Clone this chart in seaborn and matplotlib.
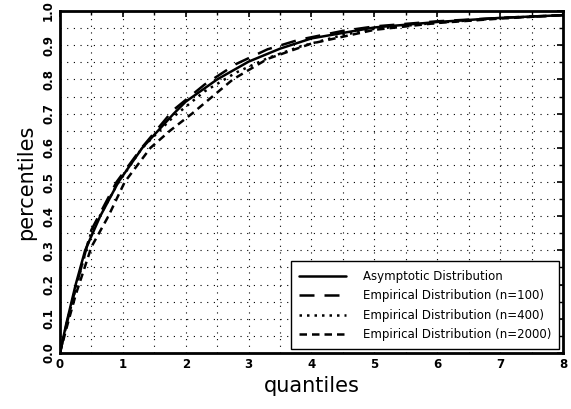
import numpy as np
import pandas as pd
import matplotlib
matplotlib.use("Agg")
import matplotlib.pyplot as plt
import seaborn as sns
from matplotlib.ticker import MultipleLocator

# values
asym_x = [0, 0.1, 0.25, 0.4, 0.64, 0.93, 1.31, 1.81, 2.0, 2.5, 3.0, 3.5, 4.0, 5.0, 6.0, 7.0, 8.0]
asym_y = [0, 0.085, 0.2, 0.3, 0.4, 0.5, 0.6, 0.7, 0.735, 0.8, 0.852, 0.89, 0.92, 0.952, 0.968, 0.98, 0.988]

n100_x = [0, 0.1, 0.25, 0.5, 0.9, 1.3, 1.8, 2.3, 2.8, 3.3, 3.8, 4.5, 5.0, 6.0, 7.0, 8.0]
n100_y = [0, 0.08, 0.19, 0.36, 0.5, 0.6, 0.71, 0.785, 0.845, 0.888, 0.916, 0.942, 0.955, 0.97, 0.98, 0.988]

n400_x = [0, 0.1, 0.25, 0.5, 0.9, 1.3, 1.8, 2.3, 2.8, 3.3, 3.8, 4.5, 5.0, 6.0, 7.0, 8.0]
n400_y = [0, 0.08, 0.19, 0.355, 0.49, 0.598, 0.69, 0.765, 0.82, 0.862, 0.895, 0.93, 0.948, 0.966, 0.979, 0.988]

n2000_x = [0, 0.1, 0.25, 0.5, 0.77, 1.03, 1.44, 1.75, 2.1, 2.75, 3.3, 4.0, 5.0, 6.0, 7.0, 8.0]
n2000_y = [0, 0.07, 0.17, 0.31, 0.4, 0.5, 0.6, 0.65, 0.7, 0.8, 0.86, 0.905, 0.945, 0.965, 0.978, 0.988]

labels = ["Asymptotic Distribution",
          "Empirical Distribution (n=100)",
          "Empirical Distribution (n=400)",
          "Empirical Distribution (n=2000)"]

x_ticks = [0, 1, 2, 3, 4, 5, 6, 7, 8]
y_ticks = [0.0, 0.1, 0.2, 0.3, 0.4, 0.5, 0.6, 0.7, 0.8, 0.9, 1.0]

series = [(asym_x, asym_y), (n100_x, n100_y), (n400_x, n400_y), (n2000_x, n2000_y)]
styles = [dict(linestyle="-", linewidth=1.8),
          dict(linestyle=(0, (6, 4)), linewidth=1.8),
          dict(linestyle=(0, (1, 2)), linewidth=1.8),
          dict(linestyle=(0, (3, 2)), linewidth=1.8)]

sns.set_style("white")
plt.rcParams["font.family"] = ["DejaVu Sans"]
plt.rcParams["text.color"] = "black"
plt.rcParams["axes.labelcolor"] = "black"
plt.rcParams["xtick.color"] = "black"
plt.rcParams["ytick.color"] = "black"

fig = plt.figure(figsize=(5.71, 4.09), dpi=100)
ax = fig.add_axes([0.105, 0.137, 0.881, 0.836])

for (xs, ys), lab, st in zip(series, labels, styles):
    df = pd.DataFrame({"x": xs, "y": ys})
    sns.lineplot(data=df, x="x", y="y", ax=ax, color="black", label=lab,
                 sort=False, estimator=None, **st)

ax.set_xlim(0, 8)
ax.set_ylim(0, 1)
ax.set_xticks(x_ticks)
ax.set_xticklabels([str(v) for v in x_ticks], fontweight="bold")
ax.set_yticks(y_ticks)
ax.set_yticklabels([f"{v:.1f}" for v in y_ticks], rotation=90, va="center",
                   fontweight="bold")
ax.xaxis.set_minor_locator(MultipleLocator(0.5))
ax.yaxis.set_minor_locator(MultipleLocator(0.05))

ax.grid(True, which="both", color="black", linestyle=(0, (1, 5)), linewidth=0.8)
ax.tick_params(which="both", direction="in", top=True, right=True, color="black")
ax.tick_params(which="major", length=4, width=1.2, labelsize=8.5)
ax.tick_params(which="minor", length=3, width=1.0)
for sp in ax.spines.values():
    sp.set_linewidth(2)
    sp.set_color("black")

ax.set_xlabel("quantiles", fontsize=15)
ax.set_ylabel("percentiles", fontsize=15)

leg = ax.legend(loc="lower right", fontsize=8.5, frameon=True, fancybox=False,
                edgecolor="black", framealpha=1, handlelength=4.0,
                handletextpad=1.4, borderpad=0.7, labelspacing=0.55,
                borderaxespad=0.3)
leg.get_frame().set_linewidth(1.0)

fig.savefig("out.png", dpi=100)
